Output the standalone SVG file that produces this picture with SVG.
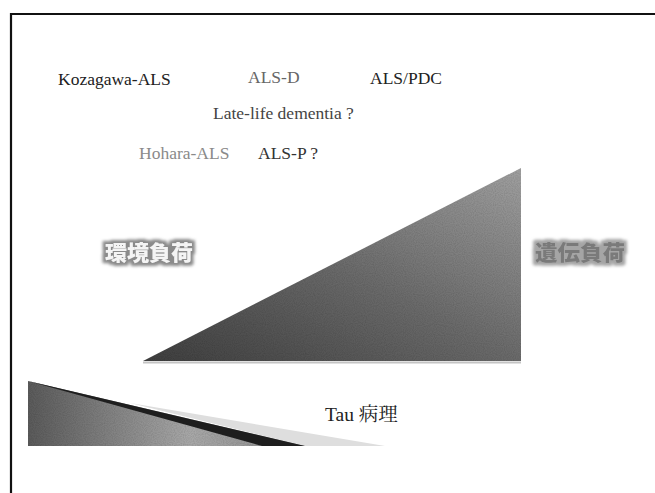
<svg xmlns="http://www.w3.org/2000/svg" width="655" height="493" viewBox="0 0 655 493">
<defs>
<style>
.t{font-family:"Liberation Serif","Noto Serif CJK JP","Noto Sans CJK JP",serif;font-size:17.5px}
.j{font-family:"Noto Sans CJK JP",sans-serif;font-size:21px;font-weight:900}
.frame{stroke:#111;stroke-width:2.2;fill:none}
</style>
<linearGradient id="gBig" x1="0" y1="1" x2="1" y2="0">
<stop offset="0" stop-color="#3e3e3e"/>
<stop offset="0.5" stop-color="#6a6a6a"/>
<stop offset="1" stop-color="#a0a0a0"/>
</linearGradient>
<linearGradient id="gWedge" x1="28" y1="0" x2="300" y2="0" gradientUnits="userSpaceOnUse">
<stop offset="0" stop-color="#5a5a5a"/>
<stop offset="0.6" stop-color="#a8a8a8"/>
<stop offset="1" stop-color="#8a8a8a"/>
</linearGradient>
<filter id="noise" x="0" y="0" width="1" height="1">
<feTurbulence type="fractalNoise" baseFrequency="0.9" numOctaves="1" seed="3" result="n"/>
<feColorMatrix in="n" type="matrix" values="0 0 0 0 0.5  0 0 0 0 0.5  0 0 0 0 0.5  0 0 0 0.9 -0.3" result="nm"/>
<feComposite in="nm" in2="SourceGraphic" operator="in" result="nc"/>
<feBlend in="SourceGraphic" in2="nc" mode="multiply"/>
</filter>
<filter id="glowL" x="-20%" y="-40%" width="140%" height="180%">
<feMorphology in="SourceAlpha" operator="dilate" radius="2.5" result="d"/>
<feGaussianBlur in="d" stdDeviation="1.8" result="b"/>
<feFlood flood-color="#8a8a8a"/>
<feComposite in2="b" operator="in" result="h"/>
<feMerge><feMergeNode in="h"/><feMergeNode in="SourceGraphic"/></feMerge>
</filter>
<filter id="glowR" x="-20%" y="-40%" width="140%" height="180%">
<feMorphology in="SourceAlpha" operator="dilate" radius="2.5" result="d"/>
<feGaussianBlur in="d" stdDeviation="1.8" result="b"/>
<feFlood flood-color="#a5a5a5"/>
<feComposite in2="b" operator="in" result="h"/>
<feMerge><feMergeNode in="h"/><feMergeNode in="SourceGraphic"/></feMerge>
</filter>
</defs>
<rect width="655" height="493" fill="#fff"/>
<g id="frame">
<path class="frame" d="M11,493 V14 H655"/>
</g>
<g id="big-triangle">
<line x1="143" y1="362.5" x2="521" y2="362.5" stroke="#c4c4c4" stroke-width="2"/>
<polygon points="143,361 521,361 521,168" fill="url(#gBig)" filter="url(#noise)"/>
</g>
<g id="tau-wedge">
<polygon points="130,403 385,446 305,446" fill="#dedede"/>
<polygon points="28,381 28,446 305,446" fill="url(#gWedge)" filter="url(#noise)"/>
<polygon points="28,381 305,446 262,446" fill="#1e1e1e"/>
</g>
<g id="labels">
<text id="kozagawa" class="t" x="58" y="85" fill="#222">Kozagawa-ALS</text>
<text id="als-d" class="t" x="248" y="83" fill="#666">ALS-D</text>
<text id="als-pdc" class="t" x="370" y="84" fill="#222">ALS/PDC</text>
<text id="late-life" class="t" x="213" y="119" fill="#444">Late-life dementia ?</text>
<text id="hohara" class="t" x="139" y="159" fill="#8a8a8a">Hohara-ALS</text>
<text id="als-p" class="t" x="258" y="159" fill="#333">ALS-P ?</text>
<text id="tau" class="t" x="325" y="421" fill="#222" style="font-size:19.5px">Tau 病理</text>
</g>
<g id="env-burden">
<text class="j" x="105" y="260" fill="#f4f4f4" filter="url(#glowL)" textLength="88" lengthAdjust="spacingAndGlyphs">環境負荷</text>
</g>
<g id="gen-burden">
<text class="j" x="535" y="260" fill="#7a7a7a" filter="url(#glowR)" textLength="90" lengthAdjust="spacingAndGlyphs">遺伝負荷</text>
</g>
</svg>
